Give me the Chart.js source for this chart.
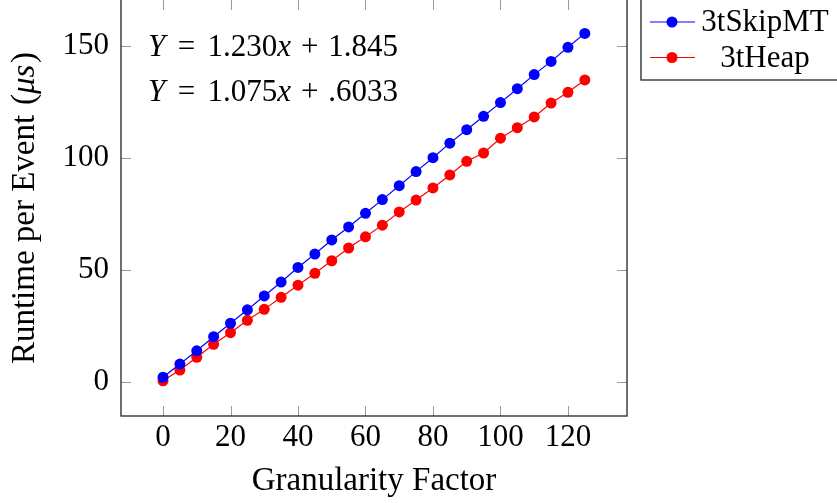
<!DOCTYPE html>
<html>
<head>
<meta charset="utf-8">
<script src="https://cdn.jsdelivr.net/npm/chart.js@4/dist/chart.umd.min.js"></script>
<style>
  html, body { margin: 0; padding: 0; background: #fff; overflow: hidden; }
  #wrap { position: relative; width: 837px; height: 503px; }
</style>
</head>
<body>
<div id="wrap"><canvas id="runtime" width="837" height="503"></canvas></div>
<script>
/* ========= DATA ========= */
const granularity = [0, 5, 10, 15, 20, 25, 30, 35, 40, 45, 50, 55, 60,
  65, 70, 75, 80, 85, 90, 95, 100, 105, 110, 115, 120, 125];
const skipMT = [2.0, 7.9, 13.8, 20.1, 26.1, 32.1, 38.3, 44.5, 51.0, 57.0, 63.3, 69.1, 75.2,
  81.3, 87.5, 93.8, 100.0, 106.5, 112.5, 118.5, 124.6, 130.8, 137.1, 143.0, 149.3, 155.5];
const heap = [0.4, 5.2, 10.9, 16.7, 21.9, 27.4, 32.3, 37.7, 43.1, 48.4, 54.0, 59.7, 64.7,
  69.9, 75.8, 81.1, 86.5, 92.3, 98.4, 102.1, 108.7, 113.4, 118.2, 124.4, 129.2, 134.7];
const seriesNames = ["3tSkipMT", "3tHeap"];
const fitLines = [
  ["1.230", "1.845"],
  ["1.075", ".6033"]
];
const xTicks = [0, 20, 40, 60, 80, 100, 120];
const yTicks = [0, 50, 100, 150];

const SERIF = "'Liberation Serif', 'DejaVu Serif', serif";
const FS = 31;   // tick labels, legend, equations
const TS = 33;   // axis titles

const toPoints = ys => granularity.map((x, i) => ({ x, y: ys[i] }));

// draw a run of [text, italic, gapBefore(em)] pieces starting at x
function drawRun(ctx, segs, x, y, size) {
  segs.forEach(([t, it, gap]) => {
    x += (gap || 0) * size;
    ctx.font = (it ? "italic " : "") + size + "px " + SERIF;
    ctx.fillText(t, x, y);
    x += ctx.measureText(t).width;
  });
  return x;
}

function runWidth(ctx, segs, size) {
  let w = 0;
  segs.forEach(([t, it, gap]) => {
    ctx.font = (it ? "italic " : "") + size + "px " + SERIF;
    w += (gap || 0) * size + ctx.measureText(t).width;
  });
  return w;
}

/* ========= FRAME, TICKS, LEGEND, LABELS ========= */
const framePlugin = {
  id: "frame",
  afterDraw(chart) {
    const { ctx, chartArea: a, scales: { x, y } } = chart;
    ctx.save();

    // inward ticks on all four sides
    ctx.strokeStyle = "#9a9a9a";
    ctx.lineWidth = 1;
    ctx.beginPath();
    xTicks.forEach(v => {
      const px = Math.round(x.getPixelForValue(v)) + 0.5;
      ctx.moveTo(px, a.bottom); ctx.lineTo(px, a.bottom - 10);
      ctx.moveTo(px, a.top); ctx.lineTo(px, a.top + 10);
    });
    yTicks.forEach(v => {
      const py = Math.round(y.getPixelForValue(v)) + 0.5;
      ctx.moveTo(a.left, py); ctx.lineTo(a.left + 10, py);
      ctx.moveTo(a.right, py); ctx.lineTo(a.right - 10, py);
    });
    ctx.stroke();

    // box (top edge sits just above the canvas)
    ctx.strokeStyle = "#222";
    ctx.lineWidth = 1.3;
    ctx.strokeRect(a.left, a.top - 2, a.right - a.left, a.bottom - a.top + 2);

    // y title, with italic unit
    ctx.fillStyle = "#000";
    ctx.textBaseline = "middle";
    ctx.textAlign = "left";
    ctx.translate(25, (a.top + a.bottom) / 2);
    ctx.rotate(-Math.PI / 2);
    const ytitle = [["Runtime per Event", false], ["(", false, 0.3], ["μs", true], [")", false, 0.05]];
    drawRun(ctx, ytitle, -runWidth(ctx, ytitle, TS) / 2, 0, TS);
    ctx.setTransform(1, 0, 0, 1, 0, 0);

    // fitted line equations
    ctx.textBaseline = "alphabetic";
    fitLines.forEach((f, i) => {
      const segs = [["Y", true], ["=", false, 0.4], [f[0], false, 0.4], ["x", true],
        ["+", false, 0.32], [f[1], false, 0.32]];
      drawRun(ctx, segs, 148, 56 + i * 45, FS);
    });

    // legend box
    const lx = 641, lw = 220, lh = 80;
    ctx.fillStyle = "#fff";
    ctx.fillRect(lx, -2, lw, lh + 2);
    ctx.strokeStyle = "#222";
    ctx.lineWidth = 1.3;
    ctx.strokeRect(lx, -2, lw, lh + 2);
    chart.data.datasets.forEach((ds, i) => {
      const ly = 22 + i * 35.5;
      ctx.strokeStyle = ds.borderColor;
      ctx.lineWidth = 1.2;
      ctx.beginPath();
      ctx.moveTo(650, ly); ctx.lineTo(695, ly);
      ctx.stroke();
      ctx.fillStyle = ds.pointBackgroundColor;
      ctx.beginPath();
      ctx.arc(672, ly, 5.5, 0, Math.PI * 2);
      ctx.fill();
      ctx.fillStyle = "#000";
      ctx.font = FS + "px " + SERIF;
      ctx.textAlign = "center";
      ctx.textBaseline = "middle";
      ctx.fillText(ds.label, 765, ly + 1);
      ctx.textAlign = "left";
    });
    ctx.restore();
  }
};

/* ========= CHART ========= */
new Chart(document.getElementById("runtime"), {
  type: "line",
  data: {
    datasets: [
      {
        label: seriesNames[0],
        data: toPoints(skipMT),
        borderColor: "#0000ff",
        backgroundColor: "#0000ff",
        pointBackgroundColor: "#0000ff",
        pointBorderWidth: 0,
        pointRadius: 5.5,
        borderWidth: 1.2,
        tension: 0
      },
      {
        label: seriesNames[1],
        data: toPoints(heap),
        borderColor: "#ff0000",
        backgroundColor: "#ff0000",
        pointBackgroundColor: "#ff0000",
        pointBorderWidth: 0,
        pointRadius: 5.5,
        borderWidth: 1.2,
        tension: 0
      }
    ]
  },
  options: {
    responsive: false,
    animation: false,
    layout: { autoPadding: false, padding: { left: 0, right: 210, top: 0, bottom: 0 } },
    plugins: { legend: { display: false }, tooltip: { enabled: false } },
    scales: {
      x: {
        type: "linear",
        min: -12.45,
        max: 137.5,
        grid: { display: false, drawTicks: false },
        border: { display: false },
        afterFit: s => { s.height = 87; s.paddingLeft = 0; s.paddingRight = 0; },
        afterBuildTicks: s => { s.ticks = xTicks.map(v => ({ value: v })); },
        ticks: { color: "#000", padding: 3, maxRotation: 0, font: { family: SERIF, size: FS } },
        title: {
          display: true,
          text: "Granularity Factor",
          color: "#000",
          padding: { top: 0, bottom: 2 },
          font: { family: SERIF, size: TS }
        }
      },
      y: {
        type: "linear",
        min: -15.3,
        max: 170.4,
        grid: { display: false, drawTicks: false },
        border: { display: false },
        afterFit: s => { s.width = 121; s.paddingTop = 0; s.paddingBottom = 0; },
        afterBuildTicks: s => { s.ticks = yTicks.map(v => ({ value: v })); },
        ticks: { color: "#000", padding: 12, font: { family: SERIF, size: FS } }
      }
    }
  },
  plugins: [framePlugin]
});
</script>
</body>
</html>
